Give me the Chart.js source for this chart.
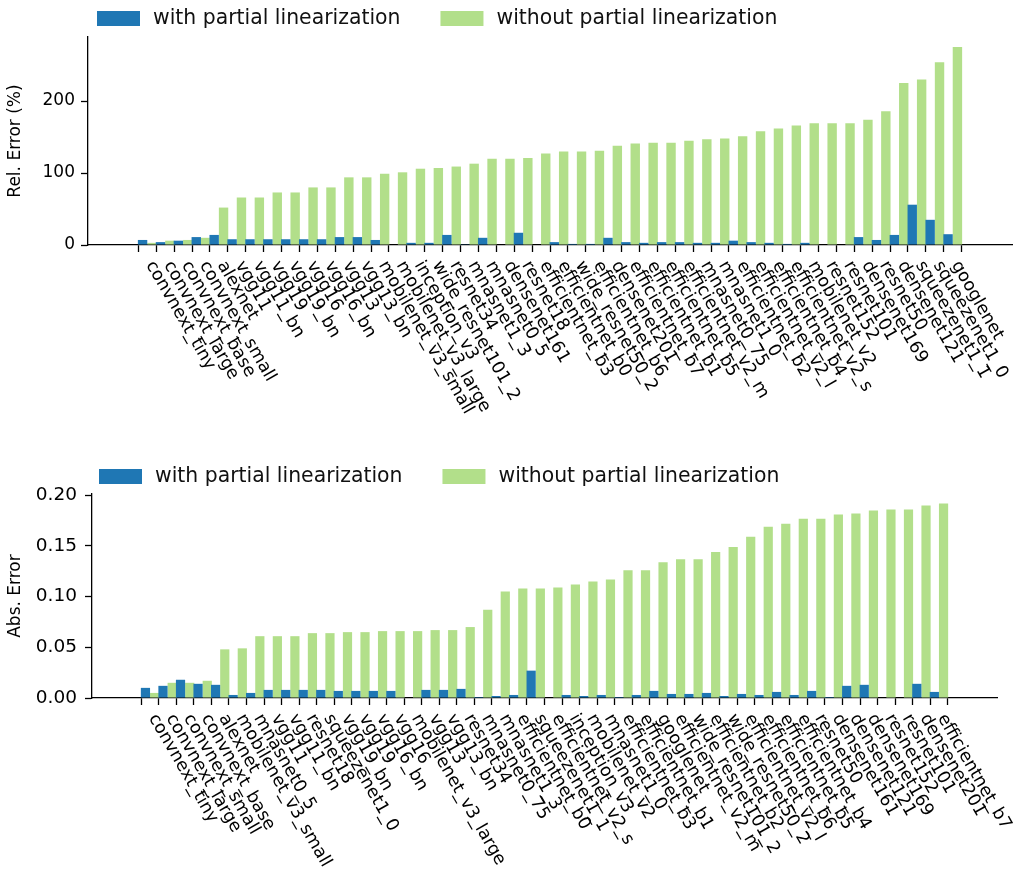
<!DOCTYPE html>
<html>
<head>
<meta charset="utf-8">
<script src="https://cdn.jsdelivr.net/npm/chart.js@4.4.0/dist/chart.umd.min.js"></script>
<style>
  html, body { margin: 0; padding: 0; background: #fff; }
  #wrap { position: relative; width: 1031px; height: 874px; }
  canvas { position: absolute; left: 0; }
</style>
</head>
<body>
<div id="wrap">
  <canvas id="rel" width="1031" height="440" style="top:0"></canvas>
  <canvas id="abs" width="1031" height="434" style="top:440px"></canvas>
</div>
<script>
// top panel: relative error, models sorted by error without linearization
const REL_MODELS = ['convnext_tiny', 'convnext_large', 'convnext_base', 'convnext_small', 'alexnet',
  'vgg11', 'vgg11_bn', 'vgg19', 'vgg19_bn', 'vgg16', 'vgg16_bn', 'vgg13', 'vgg13_bn',
  'mobilenet_v3_small', 'mobilenet_v3_large', 'inception_v3', 'wide_resnet101_2', 'resnet34',
  'mnasnet1_3', 'mnasnet0_5', 'densenet161', 'resnet18', 'efficientnet_b3', 'efficientnet_b0',
  'wide_resnet50_2', 'efficientnet_b6', 'densenet201', 'efficientnet_b7', 'efficientnet_b1',
  'efficientnet_b5', 'efficientnet_v2_m', 'mnasnet0_75', 'mnasnet1_0', 'efficientnet_b2',
  'efficientnet_v2_l', 'efficientnet_b4', 'efficientnet_v2_s', 'mobilenet_v2', 'resnet152',
  'resnet101', 'densenet169', 'resnet50', 'densenet121', 'squeezenet1_1', 'squeezenet1_0', 'googlenet'];
const REL_WITH = [7, 4, 6, 11, 14, 8, 8, 8, 8, 8, 8, 11, 11, 7, 0, 3, 3, 14, 1, 10, 0, 17, 0, 4,
  1.5, 1.5, 10, 4, 3, 4, 4, 3, 3, 6, 4, 3, 1.5, 3, 0, 0, 11, 7, 14, 56, 35, 15];
const REL_WITHOUT = [3, 6, 7, 10, 52, 66, 66, 73, 73, 80, 80, 94, 94, 99, 101, 106, 107, 109, 113,
  120, 120, 121, 127, 130, 130, 131, 138, 141, 142, 142, 145, 147, 148, 151, 158, 162, 166, 169,
  169, 169, 174, 186, 225, 230, 254, 275];
const REL_TICKS = [0, 100, 200];

// bottom panel: absolute error
const ABS_MODELS = ['convnext_tiny', 'convnext_large', 'convnext_small', 'convnext_base', 'alexnet',
  'mobilenet_v3_small', 'mnasnet0_5', 'vgg11', 'vgg11_bn', 'resnet18', 'squeezenet1_0', 'vgg19_bn',
  'vgg19', 'vgg16_bn', 'vgg16', 'mobilenet_v3_large', 'vgg13', 'vgg13_bn', 'resnet34', 'mnasnet0_75',
  'mnasnet1_3', 'efficientnet_b0', 'squeezenet1_1', 'efficientnet_v2_s', 'inception_v3', 'mobilenet_v2',
  'mnasnet1_0', 'efficientnet_b3', 'efficientnet_b1', 'googlenet', 'efficientnet_v2_m',
  'wide_resnet101_2', 'efficientnet_b2', 'wide_resnet50_2', 'efficientnet_v2_l', 'efficientnet_b6',
  'efficientnet_b5', 'efficientnet_b4', 'resnet50', 'densenet161', 'densenet121', 'densenet169',
  'resnet152', 'resnet101', 'densenet201', 'efficientnet_b7'];
const ABS_WITH = [0.010, 0.012, 0.018, 0.014, 0.013, 0.003, 0.005, 0.008, 0.008, 0.008, 0.008, 0.007,
  0.007, 0.007, 0.007, 0, 0.008, 0.008, 0.009, 0.001, 0.002, 0.003, 0.027, 0, 0.003, 0.002, 0.003,
  0.001, 0.003, 0.007, 0.004, 0.004, 0.005, 0.002, 0.004, 0.003, 0.006, 0.003, 0.007, 0.001, 0.012,
  0.013, 0, 0, 0.014, 0.006];
const ABS_WITHOUT = [0.005, 0.015, 0.015, 0.017, 0.048, 0.049, 0.061, 0.061, 0.061, 0.064, 0.064,
  0.065, 0.065, 0.066, 0.066, 0.066, 0.067, 0.067, 0.070, 0.087, 0.105, 0.108, 0.108, 0.109, 0.112,
  0.115, 0.117, 0.126, 0.126, 0.134, 0.137, 0.137, 0.144, 0.149, 0.159, 0.169, 0.172, 0.177, 0.177,
  0.181, 0.182, 0.185, 0.186, 0.186, 0.190, 0.192];
const ABS_TICKS = [0, 0.05, 0.10, 0.15, 0.20];

const SERIES = ['with partial linearization', 'without partial linearization'];
const BLUE = '#1f77b4';
const GREEN = '#b2df8a';
const FONT = 'DejaVu Sans';

// legend row drawn like matplotlib's (box, text, wide gap)
const legendRow = {
  id: 'legendRow',
  afterDraw(chart, args, o) {
    const ctx = chart.ctx;
    ctx.save();
    ctx.font = o.size + 'px "' + FONT + '"';
    ctx.textBaseline = 'middle';
    ctx.textAlign = 'left';
    let x = o.x;
    chart.data.datasets.forEach(ds => {
      ctx.fillStyle = ds.backgroundColor;
      ctx.fillRect(x, o.y - 7, 43, 15);
      ctx.fillStyle = '#111';
      ctx.fillText(ds.label, x + 56, o.y + 1);
      x += 56 + ctx.measureText(ds.label).width + 40;
    });
    ctx.restore();
  }
};

// x labels turned 60 degrees clockwise, starting at the tick
const slantLabels = {
  id: 'slantLabels',
  afterDraw(chart, args, o) {
    const ctx = chart.ctx, sx = chart.scales.x;
    ctx.save();
    ctx.font = o.size + 'px "' + FONT + '"';
    ctx.fillStyle = '#000';
    ctx.textAlign = 'left';
    ctx.textBaseline = 'top';
    o.labels.forEach((name, i) => {
      ctx.save();
      ctx.translate(sx.getPixelForValue(i) + o.dx, chart.chartArea.bottom + o.dy);
      ctx.rotate(Math.PI / 3);
      ctx.fillText(name, 0, 0);
      ctx.restore();
    });
    ctx.restore();
  }
};

function makeChart(id, models, withVals, withoutVals, yTicks, yMax, yTitle, fmt, g) {
  const axisLine = { display: true, color: '#000', width: 1.3 };
  const tickMarks = { drawOnChartArea: false, drawTicks: true, tickLength: 7, tickWidth: 1.3, tickColor: '#000' };
  return new Chart(document.getElementById(id), {
    type: 'bar',
    data: {
      datasets: [
        { label: SERIES[0], backgroundColor: BLUE, data: withVals.map((v, i) => ({ x: i, y: v })) },
        { label: SERIES[1], backgroundColor: GREEN, data: withoutVals.map((v, i) => ({ x: i, y: v })) }
      ]
    },
    options: {
      responsive: false,
      animation: false,
      categoryPercentage: 1.05,
      barPercentage: 1.0,
      layout: { padding: { top: g.top, right: g.right, left: 0, bottom: 0 } },
      plugins: {
        legend: { display: false },
        tooltip: { enabled: false },
        legendRow: { x: g.legendX, y: g.legendY, size: 20.4 },
        slantLabels: { labels: models, size: 17.5, dx: 10, dy: 13 }
      },
      scales: {
        x: {
          type: 'linear',
          min: -2.75,
          max: models.length + 1.75,
          grid: tickMarks,
          border: axisLine,
          ticks: { display: false },
          afterBuildTicks: s => { s.ticks = models.map((m, i) => ({ value: i })); },
          afterFit: s => { s.height = g.xHeight; }
        },
        y: {
          min: 0,
          max: yMax,
          grid: tickMarks,
          border: axisLine,
          ticks: {
            color: '#000',
            padding: g.tickPad,
            font: { family: FONT, size: g.tickSize },
            callback: v => fmt(v)
          },
          afterBuildTicks: s => { s.ticks = yTicks.map(v => ({ value: v })); },
          afterFit: s => { s.width = g.yWidth; },
          title: {
            display: true,
            text: yTitle,
            color: '#000',
            font: { family: FONT, size: 17 },
            padding: { top: 5, bottom: 4 }
          }
        }
      }
    },
    plugins: [legendRow, slantLabels]
  });
}

makeChart('rel', REL_MODELS, REL_WITH, REL_WITHOUT, REL_TICKS, 289, 'Rel. Error (%)',
  v => String(v), { top: 37, right: 19, yWidth: 88, xHeight: 195, legendX: 97, legendY: 18,
  tickSize: 17, tickPad: 6 });
makeChart('abs', ABS_MODELS, ABS_WITH, ABS_WITHOUT, ABS_TICKS, 0.2013, 'Abs. Error',
  v => v.toFixed(2), { top: 54, right: 34, yWidth: 92, xHeight: 176, legendX: 99, legendY: 36,
  tickSize: 18.5, tickPad: 8 });
</script>
</body>
</html>
